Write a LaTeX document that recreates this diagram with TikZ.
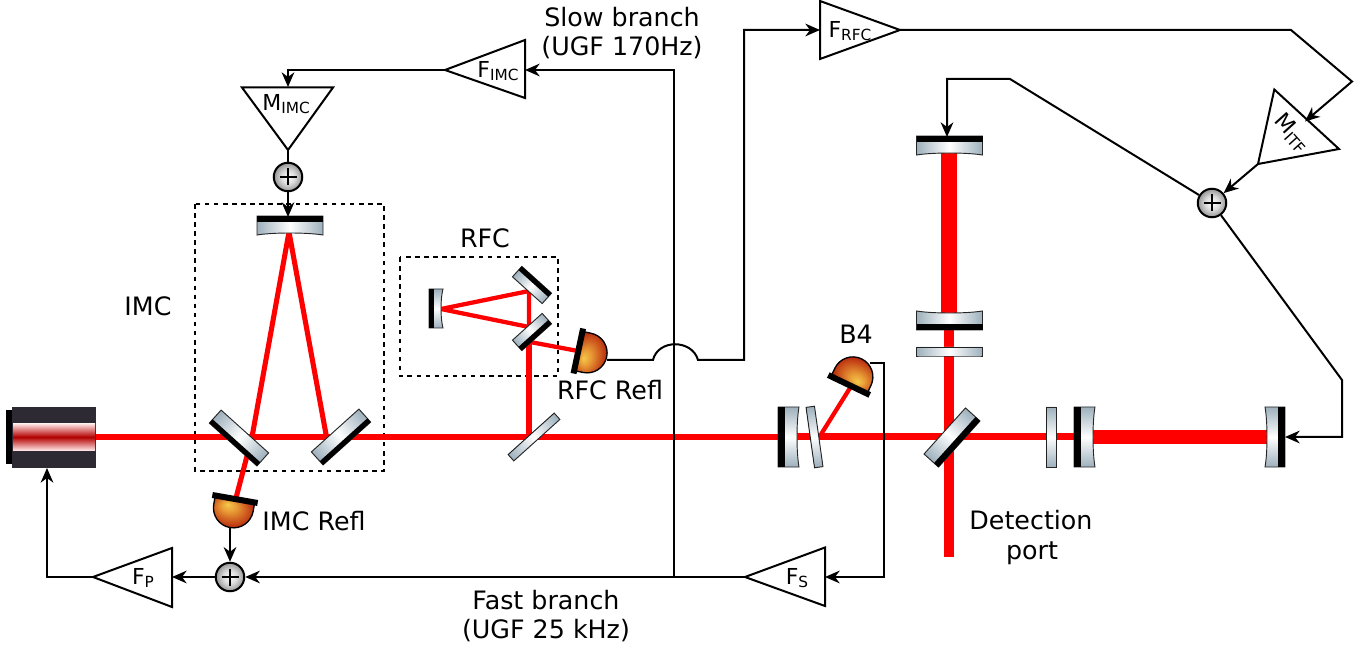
\documentclass[tikz,border=0pt]{standalone}
\usepackage{fontspec}
\setmainfont{DejaVu Sans}
\usetikzlibrary{arrows.meta,calc}
\definecolor{mg}{HTML}{9DB0BC}
\definecolor{beam}{HTML}{FF0000}
\definecolor{ldark}{HTML}{2E2A33}
\definecolor{pda}{HTML}{F5C94A}
\definecolor{pdb}{HTML}{E89A35}
\definecolor{pdc}{HTML}{B5200A}
\definecolor{pdd}{HTML}{9A0000}
\pgfdeclareradialshading{pdshade}{\pgfpoint{-8bp}{14bp}}{color(0bp)=(pda);color(10bp)=(pdb);color(32bp)=(pdc);color(50bp)=(pdd)}
\pgfdeclareradialshading{sumshade}{\pgfpoint{0bp}{0bp}}{color(0bp)=(white);color(12bp)=(black!14);color(25bp)=(black!42);color(50bp)=(black!42)}
\tikzset{
  wire/.style={line width=1.5pt,black,line join=miter},
  arrowed/.style={wire,-{Stealth[length=11pt,width=9.5pt,inset=3.5pt]}},
  ampbox/.style={line width=1.5pt,black,line join=miter},
  dashbox/.style={line width=1.5pt,dash pattern=on 3.4pt off 3.4pt},
  ray/.style={beam,line width=#1},
  ray/.default=3.8pt,
  lab/.style={font=\fontsize{19}{22}\selectfont,inner sep=0pt,anchor=base},
  amplab/.style={font=\fontsize{16.5}{20}\selectfont,inner sep=0pt}
}
\newcommand{\subl}[2]{#1{\fontsize{11.5}{12}\selectfont\raisebox{-2.5pt}{#2}}}
% x y angle L H band curvature
\newcommand{\optic}[7]{%
  \begin{scope}[transform canvas={shift={(#1,#2)},rotate=#3}]
    \path[draw=black!85,line width=0.7pt,left color=mg,right color=mg,middle color=white]
      ({-(#4)/2},{-(#5)/2}) -- ({(#4)/2},{-(#5)/2}) -- ({(#4)/2},{(#5)/2})
      .. controls ({(#4)/4},{(#5)/2-(#7)*4/3}) and ({-(#4)/4},{(#5)/2-(#7)*4/3}) .. ({-(#4)/2},{(#5)/2}) -- cycle;
    \fill[black] ({-(#4)/2},{-(#5)/2}) rectangle ({(#4)/2},{-(#5)/2+(#6)});
  \end{scope}}
% x y angle
\newcommand{\diode}[3]{%
  \begin{scope}[transform canvas={shift={(#1,#2)},rotate=#3}]
    \path[draw=black,line width=1pt,shading=pdshade]
      (-20,0) -- (-20,9) arc[start angle=180,end angle=0,radius=20] -- (20,0) -- cycle;
    \fill[black] (-23,-3) rectangle (23,3);
  \end{scope}}
\newcommand{\summer}[3]{%
  \node[circle,draw=black,line width=1.5pt,minimum size=28.5*0.75pt,inner sep=0pt,shading=sumshade] (#1) at (#2,#3) {};
  \draw[line width=1.5pt] ($(#1)+(-8.5,0)$) -- ($(#1)+(8.5,0)$) ($(#1)+(0,-8.5)$) -- ($(#1)+(0,8.5)$);}
\begin{document}
\begin{tikzpicture}[x=0.75pt,y=-0.75pt]
\useasboundingbox (0,0) rectangle (1360,648);
% boxes
\draw[dashbox] (195,204) rectangle (384,471);
\draw[dashbox] (399.5,257) rectangle (558,376);
% beams
\draw[ray] (95,437) -- (780,437);
\draw[ray=5.4pt] (795,436.5) -- (1076,436.5);
\draw[ray=10.5pt] (1090,437) -- (1268,437);
\draw[ray=6.8pt] (949,330) -- (949,557);
\draw[ray=12pt] (949,153) -- (949,313);
\draw[ray,line join=miter] (252,437) -- (289,232) -- (326.5,437);
\draw[ray] (252,437) -- (236,498);
\draw[ray] (529,437) -- (529,342);
\draw[ray=3.2pt,line join=miter] (529,342) -- (529,291) -- (441,309) -- (529,327);
\draw[ray=3.2pt] (530,342) -- (578,351);
\draw[ray=3.2pt] (820,436) -- (850,388);
% laser
\fill[ldark] (12,407) rectangle (96,468);
\fill[black] (6,410) rectangle (12,464);
\shade[top color=red!12,bottom color=red!12,middle color=red!70!black] (13,424) rectangle (95,450);
% optics
\optic{239}{438}{138}{64}{17.5}{5}{0}
\optic{341}{437}{-138}{64}{17.5}{5}{0}
\optic{290}{225.5}{0}{66}{19}{6}{2}
\optic{436}{308.5}{90}{39}{14}{5}{2}
\optic{532}{285}{-42}{40}{14}{5}{0}
\optic{532}{332}{-138}{40}{14}{5}{0}
\optic{534}{437}{42}{62}{8.5}{0}{0}
\optic{788.5}{437}{90}{60}{21}{7}{2}
\optic{814.5}{437}{98}{61}{8.5}{0}{0}
\optic{952}{437.5}{-132}{62}{19.5}{6}{0}
\optic{1051}{437}{90}{60}{10}{0}{0}
\optic{1084.5}{437}{90}{60}{21}{7}{2}
\optic{1275}{437}{-90}{60}{20}{7}{2}
\optic{949.5}{145.5}{0}{66}{19}{6}{2}
\optic{949.5}{320.5}{180}{66}{19}{6}{2}
\optic{949.5}{351.5}{0}{66}{9}{0}{0}
% photodiodes
\diode{235}{499}{-10}
\diode{578.3}{351}{78}
\diode{849}{385}{154.4}
% amplifier triangles
\coordinate (FPtip) at (93,577);   \coordinate (FPbase) at (172,577);
\coordinate (FStip) at (745,577);  \coordinate (FSbase) at (825,577);
\coordinate (FItip) at (445,70);   \coordinate (FIbase) at (525,70);
\coordinate (FRtip) at (900,30);   \coordinate (FRbase) at (820,30);
\coordinate (MItop) at (288,87);   \coordinate (MItip) at (288,150);
\coordinate (MTside) at (1305,121.5); \coordinate (MTtip) at (1258,164);
\draw[ampbox] (FPtip) -- (172,548) -- (172,607) -- cycle;
\draw[ampbox] (FStip) -- (825,547.5) -- (825,606) -- cycle;
\draw[ampbox] (FItip) -- (525,40) -- (525,98) -- cycle;
\draw[ampbox] (FRtip) -- (820,1) -- (820,59) -- cycle;
\draw[ampbox] (MItip) -- (242,87.5) -- (333,87.5) -- cycle;
\draw[ampbox] (MTtip) -- (1274.3,89.5) -- (1339,149) -- cycle;
% amplifier labels
\node[amplab] (lFP) at (143,578) {\subl{F}{P}};
\node[amplab] (lFS) at (797,578) {\subl{F}{S}};
\node[amplab] (lFI) at (498,71) {\subl{F}{IMC}};
\node[amplab] (lFR) at (850,31) {\subl{F}{RFC}};
\node[amplab] (lMI) at (286,104) {\subl{M}{IMC}};
\node[amplab,rotate=-48] (lMT) at (1292,133) {\subl{M}{ITF}};
% summing nodes
\summer{SI}{230}{577}
\summer{SM}{288}{177}
\summer{SE}{1212}{203}
% way-points
\coordinate (Dimc) at (230,528);
\coordinate (Lbot) at (47,468);
\coordinate (Lc) at (47,577);
\coordinate (Jn) at (674,577);
\coordinate (Jt) at (674,70);
\coordinate (Mtop) at (288,70);
\coordinate (Mirtop) at (288,217);
\coordinate (B4o) at (870,363.5);
\coordinate (B4c) at (884,363.5);
\coordinate (B4d) at (884,577);
\coordinate (Rfo) at (607,360);
\coordinate (Ha) at (653,360);
\coordinate (Hb) at (698,360);
\coordinate (Rc) at (744,360);
\coordinate (Rt) at (744,30);
\coordinate (Tc) at (1291,30);
\coordinate (Td) at (1352,81.5);
\coordinate (Ea) at (1010,79);
\coordinate (Eb) at (947,79);
\coordinate (Ec) at (947,137);
\coordinate (Ga) at (1342,380);
\coordinate (Gb) at (1342,437);
\coordinate (Gc) at (1285,437);
% connectors
\draw[arrowed] (Dimc) -- (SI);
\draw[arrowed] (SI) -- (FPbase);
\draw[arrowed] (FPtip) -- (Lc) -- (Lbot);
\draw[arrowed] (FStip) -- (SI);
\draw[arrowed] (Jn) -- (Jt) -- (FIbase);
\draw[arrowed] (FItip) -- (Mtop) -- (MItop);
\draw[wire] (MItip) -- (SM);
\draw[arrowed] (SM) -- (Mirtop);
\draw[arrowed] (B4o) -- (B4c) -- (B4d) -- (FSbase);
\draw[arrowed] (Rfo) -- (Ha) .. controls (658,339) and (692,339) .. (Hb) -- (Rc) -- (Rt) -- (FRbase);
\draw[arrowed] (FRtip) -- (Tc) -- (Td) -- (MTside);
\draw[arrowed] (MTtip) -- (SE);
\draw[arrowed] (SE) -- (Ea) -- (Eb) -- (Ec);
\draw[arrowed] (SE) -- (Ga) -- (Gb) -- (Gc);
% labels
\node[lab] (t1) at (622,27) {Slow branch};
\node[lab] (t2) at (622,56) {(UGF 170Hz)};
\node[lab] (t3) at (546,609) {Fast branch};
\node[lab] (t4) at (546,638) {(UGF 25 kHz)};
\node[lab] (t5) at (148,316) {IMC};
\node[lab] (t6) at (485,248) {RFC};
\node[lab] (t7) at (610,400) {RFC Refl};
\node[lab] (t8) at (314,530) {IMC Refl};
\node[lab] (t9) at (856,343.5) {B4};
\node[lab] (t10) at (1031,529) {Detection};
\node[lab] (t11) at (1032,559) {port};
\end{tikzpicture}
\end{document}
